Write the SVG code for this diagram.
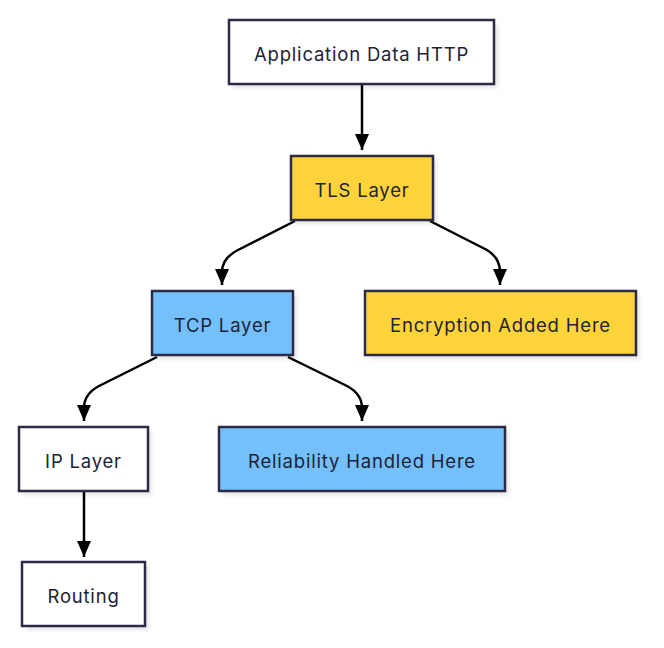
<svg xmlns="http://www.w3.org/2000/svg" width="664" height="648" viewBox="0 0 664 648">
<defs>
<marker id="ah" viewBox="0 0 16 14" refX="16" refY="7" markerWidth="16" markerHeight="14" markerUnits="userSpaceOnUse" orient="auto">
<path d="M0,0 L16,7 L0,14 z" fill="#000"/>
</marker>
<filter id="sh" x="-10%" y="-10%" width="130%" height="140%">
<feGaussianBlur stdDeviation="2"/>
</filter>
</defs>
<style>
.box{stroke:#2d2a45;stroke-width:2.5}
.shadow{fill:#000;opacity:0.1;filter:url(#sh)}
.white{fill:#fff}
.yellow{fill:#ffd43b}
.blue{fill:#74c0fc}
.lbl{font-family:Inter,"Liberation Sans",sans-serif;font-size:18.5px;letter-spacing:0.8px;fill:#1e2235;text-anchor:middle;dominant-baseline:central}
.edge{fill:none;stroke:#000;stroke-width:2.5;marker-end:url(#ah)}
</style>
<rect width="664" height="648" fill="#fff"/>
<g id="connectors">
<path class="edge" d="M362,84 L362,150"/>
<path class="edge" d="M295,221 L238,250 Q222,258 222,272 L222,285"/>
<path class="edge" d="M430,221 L487,250 Q500,258 500,272 L500,285"/>
<path class="edge" d="M157,357 L99,386 Q84,394 84,408 L84,421"/>
<path class="edge" d="M288,357 L347,386 Q362,394 362,408 L362,421"/>
<path class="edge" d="M84,491 L84,557"/>
</g>
<g id="app">
<rect class="shadow" x="233" y="24" width="265" height="64"/>
<rect class="box white" x="229" y="20" width="265" height="64"/>
<text class="lbl" x="361.5" y="54">Application Data HTTP</text>
</g>
<g id="tls">
<rect class="shadow" x="295" y="160" width="142" height="64"/>
<rect class="box yellow" x="291" y="156" width="142" height="64"/>
<text class="lbl" x="362" y="190">TLS Layer</text>
</g>
<g id="tcp">
<rect class="shadow" x="156" y="295" width="141" height="64"/>
<rect class="box blue" x="152" y="291" width="141" height="64"/>
<text class="lbl" x="222.5" y="325">TCP Layer</text>
</g>
<g id="enc">
<rect class="shadow" x="369" y="295" width="271" height="64"/>
<rect class="box yellow" x="365" y="291" width="271" height="64"/>
<text class="lbl" x="500.5" y="325">Encryption Added Here</text>
</g>
<g id="ip">
<rect class="shadow" x="23" y="431" width="129" height="64"/>
<rect class="box white" x="19" y="427" width="129" height="64"/>
<text class="lbl" x="83.5" y="461">IP Layer</text>
</g>
<g id="rel">
<rect class="shadow" x="223" y="431" width="286" height="64"/>
<rect class="box blue" x="219" y="427" width="286" height="64"/>
<text class="lbl" x="362" y="461">Reliability Handled Here</text>
</g>
<g id="routing">
<rect class="shadow" x="26" y="566" width="123" height="64"/>
<rect class="box white" x="22" y="562" width="123" height="64"/>
<text class="lbl" x="83.5" y="596">Routing</text>
</g>
</svg>
